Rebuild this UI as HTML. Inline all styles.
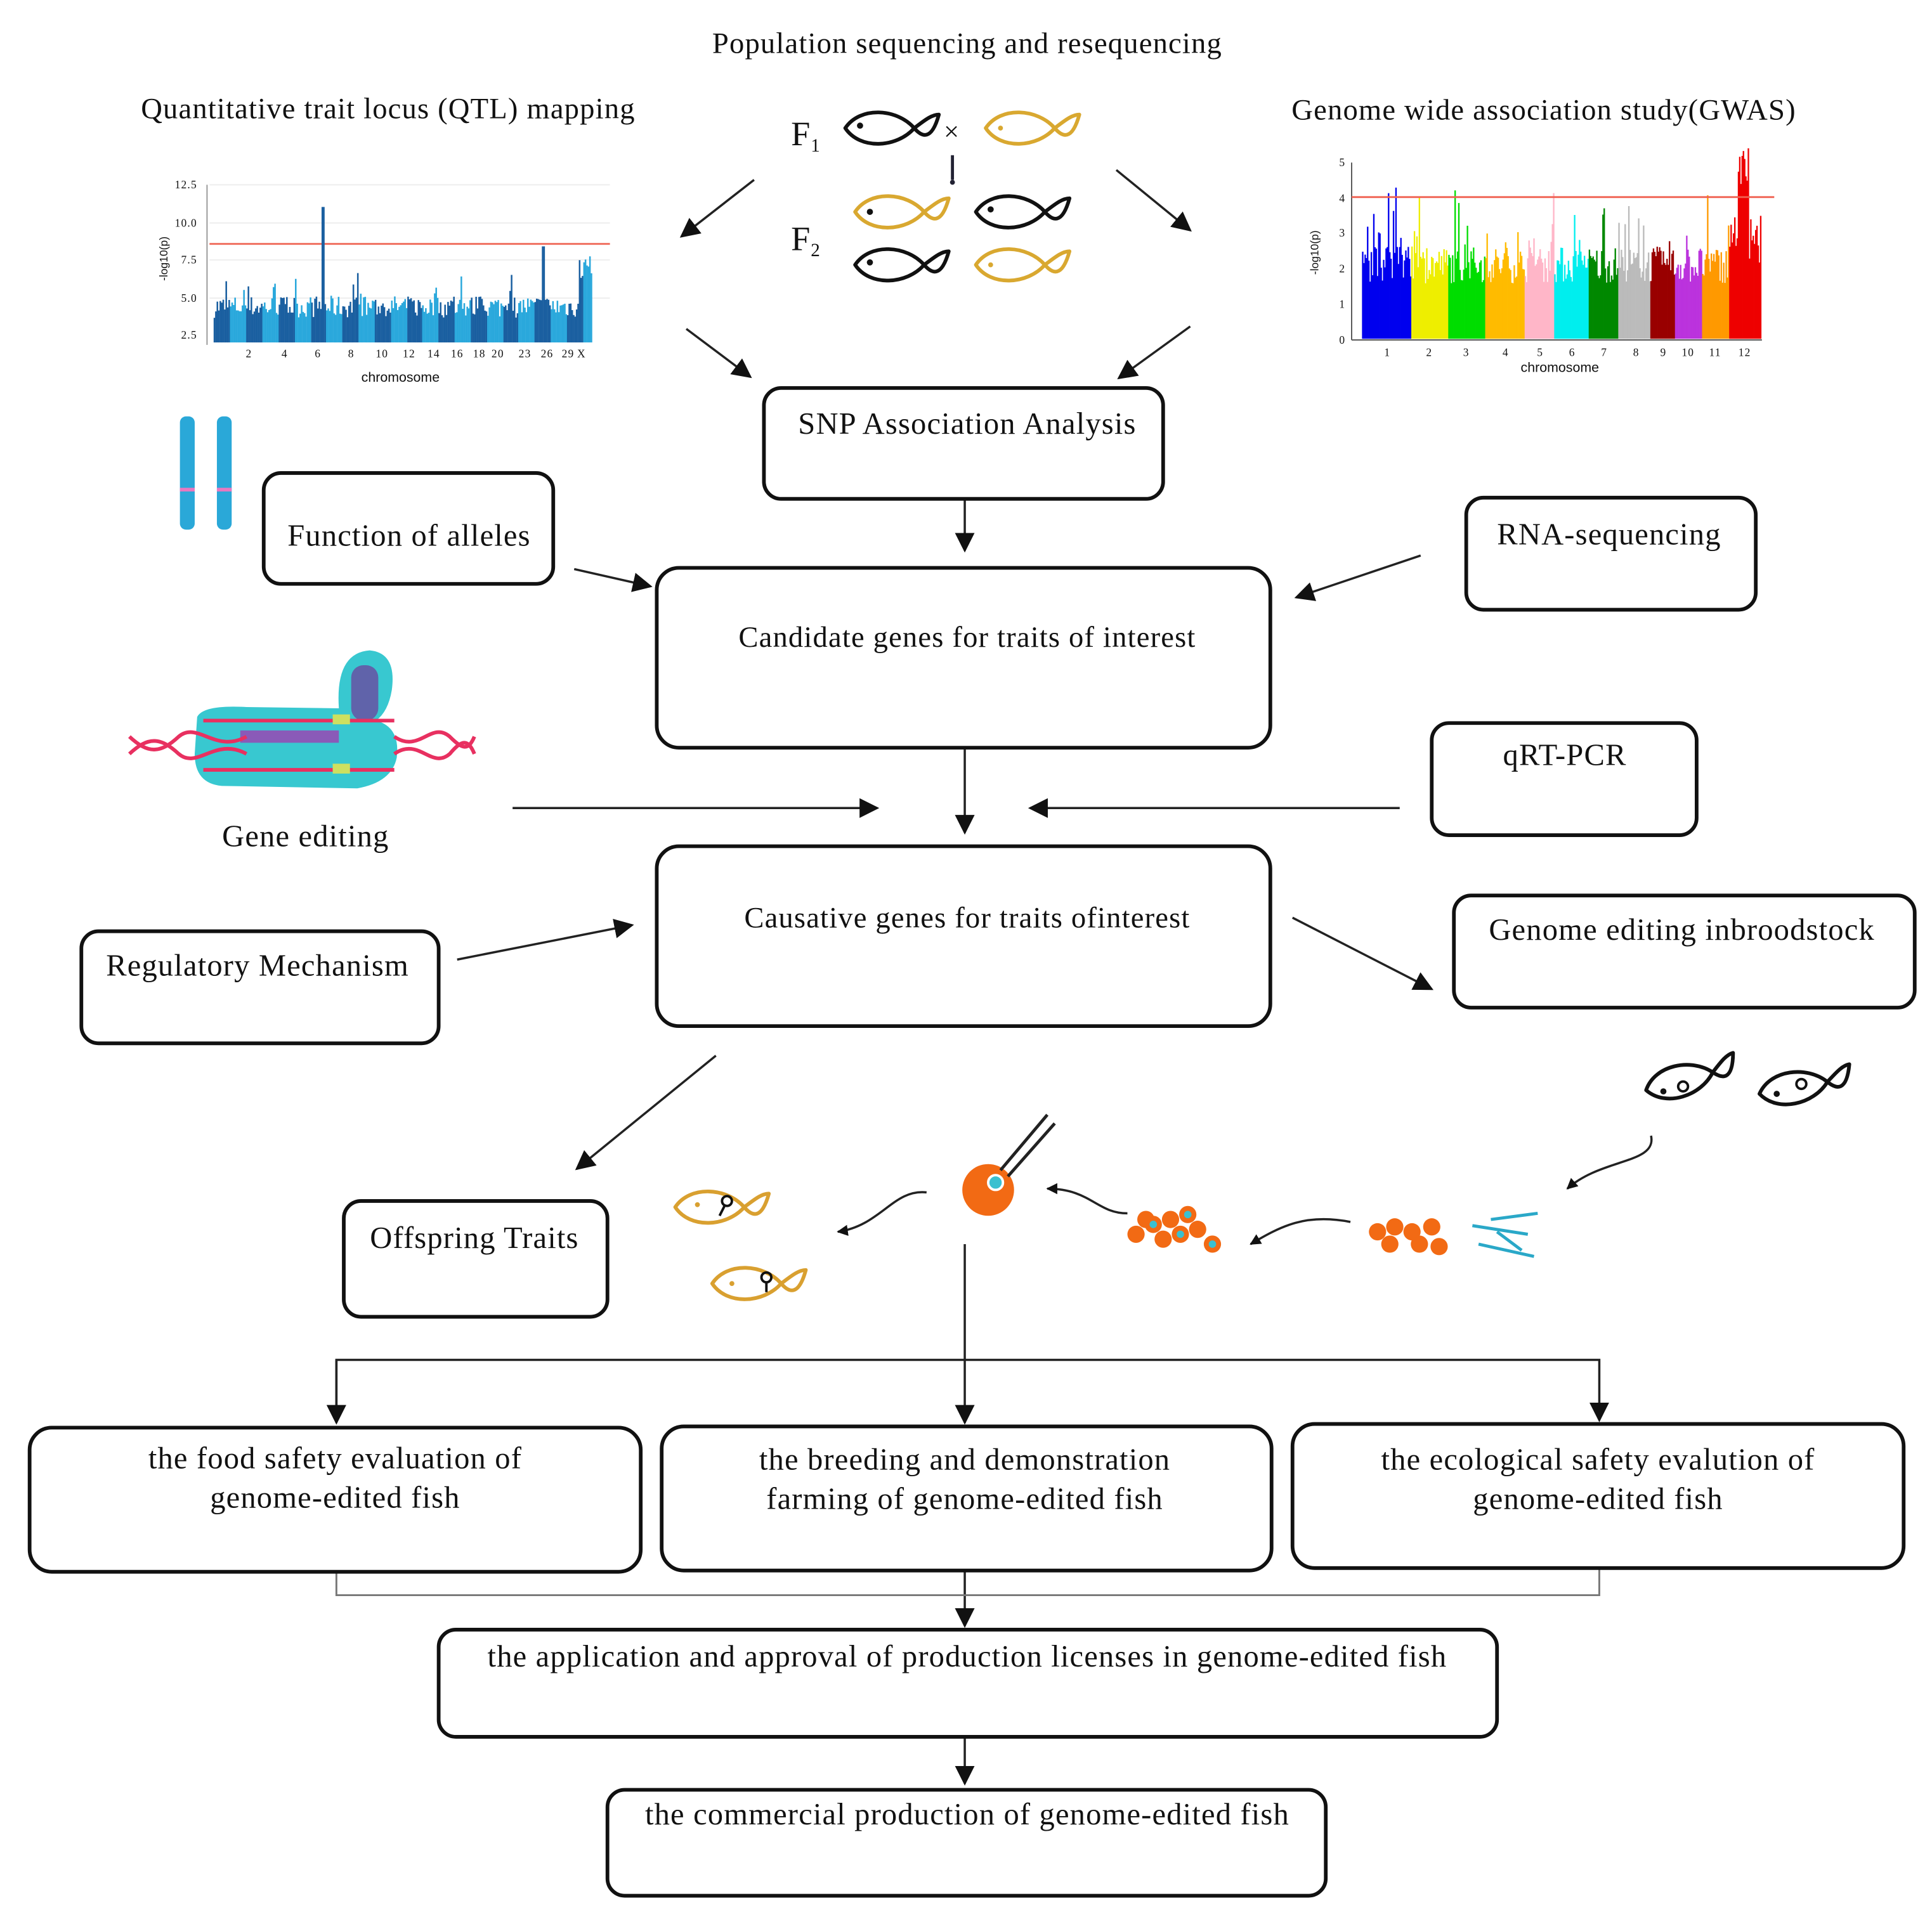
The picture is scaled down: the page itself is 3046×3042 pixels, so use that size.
<!DOCTYPE html>
<html><head><meta charset="utf-8"><style>
html,body{margin:0;padding:0;background:#fff;}
svg{display:block;}
text{font-family:"Liberation Serif",serif;fill:#111;letter-spacing:0.6px;}
.b{fill:#fff;stroke:#111;stroke-width:3;}
.l{stroke:#222;stroke-width:1.8;fill:none;}
.s{font-family:"Liberation Sans",sans-serif;letter-spacing:0;}
</style></head><body>
<svg id="s" width="3046" height="3042" viewBox="0 0 1568 1566" xmlns="http://www.w3.org/2000/svg">
<defs>
<marker id="a" viewBox="0 0 10 10" refX="9" refY="5" markerWidth="9" markerHeight="9" orient="auto" markerUnits="userSpaceOnUse"><path d="M0,0 L10,5 L0,10 z" fill="#111"/></marker>
<marker id="A" viewBox="0 0 10 10" refX="9" refY="5" markerWidth="16" markerHeight="16" orient="auto" markerUnits="userSpaceOnUse"><path d="M0,0 L10,5 L0,10 z" fill="#111"/></marker>
<g id="fish"><path d="M0,0 C12,-18 42,-16 56,0 C62,7 70,11 76,-11 C70,-11 64,-6 56,0 C42,16 12,18 0,0 z" stroke-width="3" fill="none" stroke-linejoin="round"/></g>
</defs>
<rect width="1568" height="1566" fill="#fff"/>
<text x="785" y="43" font-size="24" text-anchor="middle">Population sequencing and resequencing</text>
<text x="315" y="96" font-size="24" text-anchor="middle">Quantitative  trait  locus (QTL) mapping</text>
<text x="1253" y="97" font-size="24" text-anchor="middle">Genome wide association study(GWAS)</text>

<g id="qtl">
<line x1="168" y1="150" x2="168" y2="280" stroke="#999"/>
<g class="s" font-size="9" fill="#333" text-anchor="end">
<text x="160" y="153">12.5</text><text x="160" y="184">10.0</text><text x="160" y="214">7.5</text><text x="160" y="245">5.0</text><text x="160" y="275">2.5</text></g>
<g stroke="#eee"><line x1="170" y1="150" x2="495" y2="150"/><line x1="170" y1="181" x2="495" y2="181"/><line x1="170" y1="211" x2="495" y2="211"/><line x1="170" y1="242" x2="495" y2="242"/></g>
<line x1="170" y1="198" x2="495" y2="198" stroke="#f07060" stroke-width="1.5"/>
<text class="s" x="325" y="310" font-size="11" text-anchor="middle">chromosome</text>
<g class="s" font-size="9" text-anchor="middle"><text x="202" y="290">2</text><text x="231" y="290">4</text><text x="258" y="290">6</text><text x="285" y="290">8</text><text x="310" y="290">10</text><text x="332" y="290">12</text><text x="352" y="290">14</text><text x="371" y="290">16</text><text x="389" y="290">18</text><text x="404" y="290">20</text><text x="426" y="290">23</text><text x="444" y="290">26</text><text x="461" y="290">29</text><text x="472" y="290">X</text></g>
<text class="s" x="136" y="210" font-size="9" transform="rotate(-90 136 210)" text-anchor="middle">-log10(p)</text>
</g>

<g>
<line x1="1097" y1="132" x2="1097" y2="276" stroke="#555"/>
<line x1="1097" y1="276" x2="1430" y2="276" stroke="#555"/>
<g class="s" font-size="9" text-anchor="end"><text x="1092" y="135">5</text><text x="1092" y="164">4</text><text x="1092" y="192">3</text><text x="1092" y="221">2</text><text x="1092" y="250">1</text><text x="1092" y="279">0</text></g>
<text class="s" x="1070" y="205" font-size="9" transform="rotate(-90 1070 205)" text-anchor="middle">-log10(p)</text>
<g class="s" font-size="9" text-anchor="middle"><text x="1126" y="289">1</text><text x="1160" y="289">2</text><text x="1190" y="289">3</text><text x="1222" y="289">4</text><text x="1250" y="289">5</text><text x="1276" y="289">6</text><text x="1302" y="289">7</text><text x="1328" y="289">8</text><text x="1350" y="289">9</text><text x="1370" y="289">10</text><text x="1392" y="289">11</text><text x="1416" y="289">12</text></g>
<text class="s" x="1266" y="302" font-size="11" text-anchor="middle">chromosome</text>
<g id="gw"></g>
<line x1="1097" y1="160" x2="1440" y2="160" stroke="#f06050" stroke-width="1.5"/>
</g>

<text x="642" y="118" font-size="28">F</text><text x="658" y="123" font-size="15">1</text>
<text x="642" y="203" font-size="28">F</text><text x="658" y="208" font-size="15">2</text>
<text x="766" y="114" font-size="22">×</text>
<line x1="773" y1="126" x2="773" y2="146" stroke="#223" stroke-width="2.5"/><circle cx="773" cy="148" r="2" fill="#223"/>
<g stroke="#111"><use href="#fish" x="686" y="104"/><use href="#fish" x="792" y="172"/><use href="#fish" x="694" y="215"/></g>
<g stroke="#d9a830"><use href="#fish" x="800" y="104"/><use href="#fish" x="694" y="172"/><use href="#fish" x="792" y="215"/></g>
<g fill="#111"><circle cx="698" cy="102" r="2.5"/><circle cx="804" cy="170" r="2.5"/><circle cx="706" cy="213" r="2.5"/><circle cx="706" cy="172" r="2.5"/></g>
<g fill="#d9a830"><circle cx="812" cy="104" r="2"/><circle cx="804" cy="215" r="2"/></g>

<g class="l" marker-end="url(#A)">
<line x1="612" y1="146" x2="553" y2="192"/><line x1="906" y1="138" x2="966" y2="187"/>
<line x1="557" y1="267" x2="609" y2="306"/><line x1="966" y1="265" x2="908" y2="307"/>
<line x1="783" y1="405" x2="783" y2="447"/>
<line x1="466" y1="462" x2="528" y2="476"/><line x1="1153" y1="451" x2="1052" y2="485"/>
<line x1="783" y1="608" x2="783" y2="676"/><line x1="416" y1="656" x2="712" y2="656"/><line x1="1136" y1="656" x2="836" y2="656"/>
<line x1="371" y1="779" x2="513" y2="751"/><line x1="1049" y1="745" x2="1162" y2="803"/>
<line x1="581" y1="857" x2="468" y2="949"/>
<line x1="783" y1="1010" x2="783" y2="1155"/>
<line x1="783" y1="1276" x2="783" y2="1320"/><line x1="783" y1="1410" x2="783" y2="1448"/>
</g>
<polyline class="l" points="273,1153 273,1104 1298,1104 1298,1153" marker-end="url(#A)"/>
<line class="l" x1="273" y1="1104" x2="273" y2="1155" marker-end="url(#A)"/>
<polyline points="273,1276 273,1295 1298,1295 1298,1273" fill="none" stroke="#777" stroke-width="1.5"/>

<rect class="b" x="620" y="315" width="324" height="90" rx="14"/>
<text x="785" y="352" font-size="25" text-anchor="middle">SNP Association Analysis</text>
<rect class="b" x="214" y="384" width="235" height="90" rx="14"/>
<text x="332" y="443" font-size="25" text-anchor="middle">Function of alleles</text>
<rect class="b" x="533" y="461" width="498" height="146" rx="18"/>
<text x="785" y="525" font-size="24" text-anchor="middle">Candidate genes for traits of interest</text>
<rect class="b" x="1190" y="404" width="235" height="91" rx="14"/>
<text x="1306" y="442" font-size="25" text-anchor="middle">RNA-sequencing</text>
<rect class="b" x="1162" y="587" width="215" height="91" rx="14"/>
<text x="1270" y="621" font-size="25" text-anchor="middle">qRT-PCR</text>
<rect class="b" x="533" y="687" width="498" height="146" rx="18"/>
<text x="785" y="753" font-size="24" text-anchor="middle">Causative  genes for traits  ofinterest</text>
<rect class="b" x="66" y="756" width="290" height="91" rx="14"/>
<text x="209" y="792" font-size="25" text-anchor="middle">Regulatory  Mechanism</text>
<rect class="b" x="1180" y="727" width="374" height="91" rx="14"/>
<text x="1365" y="763" font-size="25" text-anchor="middle">Genome editing  inbroodstock</text>
<text x="248" y="687" font-size="25" text-anchor="middle">Gene editing</text>
<rect class="b" x="279" y="975" width="214" height="94" rx="14"/>
<text x="385" y="1013" font-size="25" text-anchor="middle">Offspring Traits</text>
<rect class="b" x="24" y="1159" width="496" height="117" rx="18"/>
<text x="272" y="1192" font-size="25" text-anchor="middle">the food safety evaluation  of</text>
<text x="272" y="1224" font-size="25" text-anchor="middle">genome-edited  fish</text>
<rect class="b" x="537" y="1158" width="495" height="117" rx="18"/>
<text x="783" y="1193" font-size="25" text-anchor="middle">the breeding and demonstration</text>
<text x="783" y="1225" font-size="25" text-anchor="middle">farming  of genome-edited  fish</text>
<rect class="b" x="1049" y="1156" width="496" height="117" rx="18"/>
<text x="1297" y="1193" font-size="25" text-anchor="middle">the ecological safety evalution  of</text>
<text x="1297" y="1225" font-size="25" text-anchor="middle">genome-edited  fish</text>
<rect class="b" x="356" y="1323" width="859" height="87" rx="14"/>
<text x="785" y="1353" font-size="25" text-anchor="middle">the application  and approval  of production licenses  in  genome-edited  fish</text>
<rect class="b" x="493" y="1453" width="583" height="86" rx="14"/>
<text x="785" y="1481" font-size="25" text-anchor="middle">the commercial production of genome-edited  fish</text>

<g fill="#2aa8d8"><rect x="146" y="338" width="12" height="92" rx="5"/><rect x="176" y="338" width="12" height="92" rx="5"/></g>
<g fill="#e878c0"><rect x="146" y="396" width="12" height="3"/><rect x="176" y="396" width="12" height="3"/></g>

<path d="M160,582 Q165,572 200,574 L275,575 Q272,530 300,528 Q322,530 318,560 Q315,578 305,585 Q325,590 322,615 Q318,635 290,640 L180,638 Q158,636 158,612 z" fill="#38c8d0"/>
<rect x="285" y="540" width="22" height="45" rx="10" fill="#6a4aa0" opacity=".8"/>
<rect x="195" y="593" width="80" height="10" fill="#8a5ab8"/>
<g stroke="#e83060" stroke-width="3" fill="none">
<path d="M105,598 C120,612 130,612 145,598 C160,585 175,612 200,598"/>
<path d="M105,612 C120,598 130,598 145,612 C160,625 175,598 200,612"/>
<path d="M165,585 L320,585"/><path d="M165,625 L320,625"/>
<path d="M320,598 C340,612 350,585 365,598 C375,608 380,610 385,598"/>
<path d="M320,612 C340,598 350,625 365,612 C375,600 380,600 385,612"/>
</g>
<g fill="#cde060"><rect x="270" y="580" width="14" height="8"/><rect x="270" y="620" width="14" height="8"/></g>

<g stroke="#111"><use href="#fish" x="1336" y="885" transform="rotate(-15 1336 885)"/><use href="#fish" x="1428" y="888" transform="rotate(-10 1428 888)"/></g>
<g fill="#111"><circle cx="1350" cy="886" r="2.5"/><circle cx="1442" cy="888" r="2.5"/><circle cx="1366" cy="882" r="4" fill="none" stroke="#111" stroke-width="2"/><circle cx="1462" cy="880" r="4" fill="none" stroke="#111" stroke-width="2"/></g>
<path class="l" d="M1340,922 C1345,945 1300,940 1272,965" marker-end="url(#a)" stroke-width="2.5"/>
<g fill="#f26a14"><circle cx="1118" cy="1000" r="7"/><circle cx="1132" cy="996" r="7"/><circle cx="1146" cy="1000" r="7"/><circle cx="1162" cy="996" r="7"/><circle cx="1128" cy="1010" r="7"/><circle cx="1152" cy="1010" r="7"/><circle cx="1168" cy="1012" r="7"/></g>
<g stroke="#2aa8c8" stroke-width="2.5"><line x1="1195" y1="995" x2="1240" y2="1002"/><line x1="1200" y1="1010" x2="1245" y2="1020"/><line x1="1210" y1="990" x2="1248" y2="985"/><line x1="1215" y1="1000" x2="1235" y2="1015"/></g>
<path class="l" d="M1096,992 C1060,985 1040,995 1015,1010" marker-end="url(#a)" stroke-width="2.5"/>
<g fill="#f26a14"><circle cx="922" cy="1002" r="7"/><circle cx="936" cy="994" r="7"/><circle cx="950" cy="990" r="7"/><circle cx="964" cy="986" r="7"/><circle cx="944" cy="1006" r="7"/><circle cx="958" cy="1002" r="7"/><circle cx="972" cy="998" r="7"/><circle cx="984" cy="1010" r="7"/><circle cx="930" cy="990" r="7"/></g>
<g fill="#3ac0d0"><circle cx="936" cy="994" r="3"/><circle cx="958" cy="1002" r="3"/><circle cx="984" cy="1010" r="3"/><circle cx="964" cy="986" r="3"/></g>
<path class="l" d="M915,985 C890,985 885,965 850,965" marker-end="url(#a)" stroke-width="2.5"/>
<circle cx="802" cy="966" r="21" fill="#f26a14"/><circle cx="808" cy="960" r="6" fill="#3ac0d0" stroke="#fff" stroke-width="2"/>
<g stroke="#222" stroke-width="2.5"><line x1="812" y1="950" x2="850" y2="905"/><line x1="818" y1="955" x2="856" y2="912"/></g>
<path class="l" d="M752,968 C725,965 715,995 680,1000" marker-end="url(#a)" stroke-width="2.5"/>
<g stroke="#d9a030"><use href="#fish" x="548" y="980"/><use href="#fish" x="578" y="1042"/></g>
<g fill="#d9a030"><circle cx="566" cy="978" r="2"/><circle cx="594" cy="1042" r="2"/></g>
<g fill="none" stroke="#111" stroke-width="2"><circle cx="590" cy="975" r="4"/><circle cx="622" cy="1037" r="4"/><line x1="588" y1="979" x2="584" y2="987"/><line x1="622" y1="1041" x2="622" y2="1049"/></g>
<g id="qb"></g>
</svg>
<script>
var seed=7;function r(){seed=(seed*16807)%2147483647;return seed/2147483647;}
var qb=document.getElementById('qb'),h='';
var blues=['#1a5fa0','#2aa8dc'];
for(var x=174;x<481;x+=1.2){var c=Math.floor((x-174)/13)%2;var ht=20+r()*18+(r()<0.08?r()*25:0);
if(Math.abs(x-262)<1)ht=110;if(Math.abs(x-441)<1)ht=78;if(x>470)ht=50+r()*20;
h+='<line x1="'+x+'" y1="278" x2="'+x+'" y2="'+(278-ht)+'" stroke="'+blues[c]+'" stroke-width="1.3"/>';}
qb.innerHTML=h;
var gw=document.getElementById('gw');h='';
var cols=['#0000ee','#0000ee','#eeee00','#00dd00','#ffbb00','#ffb6c8','#00eeee','#008800','#bbbbbb','#990000','#bb33dd','#ff9900','#ee0000'];
var bounds=[1106,1128,1146,1176,1206,1238,1262,1290,1314,1340,1360,1382,1404,1430];
for(var i=0;i<13;i++){for(var x=bounds[i];x<bounds[i+1];x+=1){var ht=45+r()*30+(r()<0.1?r()*50:0);if(i==12)ht=60+r()*40+(x>1410&&x<1420?60:0);if(i<2&&r()<0.1)ht+=40;
h+='<line x1="'+x+'" y1="275" x2="'+x+'" y2="'+(275-ht)+'" stroke="'+cols[i]+'" stroke-width="1.2"/>';}}
gw.innerHTML=h;
</script>
</body></html>
